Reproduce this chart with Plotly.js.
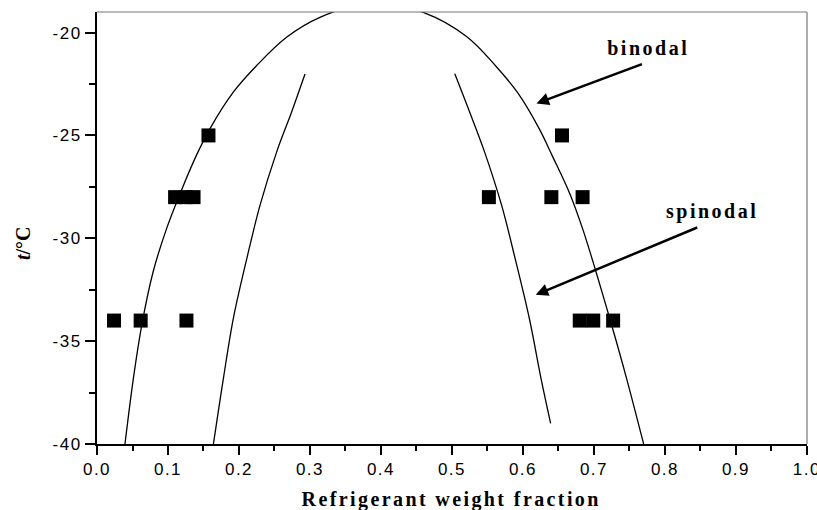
<!DOCTYPE html>
<html>
<head>
<meta charset="utf-8">
<script src="https://cdn.plot.ly/plotly-3.0.1.min.js"></script>
<style>html,body{margin:0;padding:0;background:#fff;}#chart{width:817px;height:510px;}</style>
</head>
<body>
<div id="chart"></div>
<script>
// Binodal curve (single dome, left branch bottom -> top -> right branch bottom)
const binodalX = [0.0394,0.0512,0.063,0.079,0.098,0.117,0.140,0.159,0.192,0.225,0.267,0.314,0.385,0.462,0.521,0.561,0.592,0.623,0.641,0.666,0.684,0.703,0.725,0.746,0.770];
const binodalY = [-40,-36.82,-34.23,-31.64,-29.53,-27.83,-25.97,-24.68,-22.9,-21.6,-20.23,-19.26,-18.55,-19.05,-20.2,-21.6,-22.9,-24.68,-25.97,-27.83,-29.53,-31.64,-34.23,-36.82,-40];
// Spinodal curve, left branch
const spinLX = [0.164,0.178,0.192,0.211,0.2296,0.253,0.274,0.293];
const spinLY = [-40,-36.82,-33.9,-30.99,-28.4,-25.81,-23.87,-22.01];
// Spinodal curve, right branch
const spinRX = [0.504,0.525,0.546,0.570,0.589,0.609,0.6255,0.639];
const spinRY = [-22,-23.87,-25.81,-28.4,-30.99,-33.9,-36.82,-39.0];
// Experimental points
const expX = [0.157,0.655,0.110,0.125,0.136,0.552,0.640,0.684,0.024,0.0615,0.126,0.680,0.699,0.727];
const expY = [-25,-25,-28,-28,-28,-28,-28,-28,-34,-34,-34,-34,-34,-34];
// Ticks
const xTicks = [0,0.1,0.2,0.3,0.4,0.5,0.6,0.7,0.8,0.9,1.0];
const xTickText = ['0.0','0.1','0.2','0.3','0.4','0.5','0.6','0.7','0.8','0.9','1.0'];
const yTicks = [-40,-35,-30,-25,-20];
const yTickText = ['-40','-35','-30','-25','-20'];

const lineStyle = {color:'#000', width:1.3, shape:'spline', smoothing:1};
const traces = [
  {x:binodalX, y:binodalY, mode:'lines', line:lineStyle, hoverinfo:'skip'},
  {x:spinLX, y:spinLY, mode:'lines', line:lineStyle, hoverinfo:'skip'},
  {x:spinRX, y:spinRY, mode:'lines', line:lineStyle, hoverinfo:'skip'},
  {x:expX, y:expY, mode:'markers', marker:{symbol:'square', size:14, color:'#000', line:{width:0}}, cliponaxis:false}
];

const serif = '"Liberation Serif","Times New Roman",serif';
const serifBold = {family:serif, size:20, color:'#000'};
const layout = {
  width:817, height:510,
  margin:{l:97, r:10, t:12, b:66},
  paper_bgcolor:'#fff', plot_bgcolor:'#fff',
  showlegend:false,
  font:{family:'"Liberation Sans",Arial,sans-serif', size:17, color:'#000'},
  xaxis:{
    range:[0,1.0001], tickmode:'array', tickvals:xTicks, ticktext:xTickText,
    showgrid:false, zeroline:false, ticklabeloverflow:'allow',
    showline:true, linecolor:'#000', linewidth:2,
    ticks:'outside', ticklen:9, tickwidth:2, tickcolor:'#000',
    minor:{ticks:'outside', ticklen:5, tickwidth:2, tickcolor:'#000', tickmode:'linear', tick0:0, dtick:0.05, showgrid:false},
    tickfont:{size:17}
  },
  yaxis:{
    range:[-40,-19], tickmode:'array', tickvals:yTicks, ticktext:yTickText,
    showgrid:false, zeroline:false, ticklabeloverflow:'allow',
    showline:true, linecolor:'#000', linewidth:2,
    ticks:'outside', ticklen:10, tickwidth:2, tickcolor:'#000',
    minor:{ticks:'outside', ticklen:6, tickwidth:2, tickcolor:'#000', tickmode:'linear', tick0:-40, dtick:2.5, showgrid:false},
    tickfont:{size:17}
  },
  shapes:[
    {type:'line', xref:'paper', yref:'paper', x0:0, x1:1, y0:1, y1:1, line:{color:'#777', width:1.2}},
    {type:'line', xref:'paper', yref:'paper', x0:1, x1:1, y0:0, y1:1, line:{color:'#777', width:1.2}}
  ],
  annotations:[
    {x:0.619, y:-23.45, xref:'x', yref:'y', ax:107, ay:-40, text:'', showarrow:true, arrowhead:2, arrowsize:1, arrowwidth:2.5, arrowcolor:'#000'},
    {x:0.618, y:-32.75, xref:'x', yref:'y', ax:163, ay:-68, text:'', showarrow:true, arrowhead:2, arrowsize:1, arrowwidth:2.5, arrowcolor:'#000'},
    {x:0.777, y:-20.76, xref:'x', yref:'y', text:'<b>binodal</b>', showarrow:false, font:serifBold},
    {x:0.867, y:-28.68, xref:'x', yref:'y', text:'<b>spinodal</b>', showarrow:false, font:serifBold},
    {x:0.4985, y:-40, xref:'paper', yref:'y', xanchor:'center', yshift:-55, text:'<b>Refrigerant weight fraction</b>', showarrow:false, font:{family:serif, size:20, color:'#000'}},
    {x:0, y:0, xref:'paper', yref:'paper', xanchor:'center', yanchor:'middle', text:'<b><i>t</i>/°C</b>', showarrow:false, textangle:-90, font:{family:serif, size:20, color:'#000'}}
  ]
};
// Position y title in pixel terms: convert to paper coords
const plotW = 817-97-10, plotH = 510-12-66;
layout.annotations[5].x = (23-97)/plotW;
layout.annotations[5].y = (510-66-243)/plotH;
Plotly.newPlot('chart', traces, layout, {displayModeBar:false, staticPlot:true}).then(function(gd){
  gd.querySelectorAll('.xtick text, .ytick text').forEach(function(t){ t.setAttribute('letter-spacing','1.5px'); });
  gd.querySelectorAll('.annotation-text').forEach(function(t){
    const s = t.textContent;
    if (s === 'Refrigerant weight fraction') t.setAttribute('letter-spacing','2.4px');
    if (s === 'binodal' || s === 'spinodal') t.setAttribute('letter-spacing','2.5px');
  });
});
</script>
</body>
</html>
